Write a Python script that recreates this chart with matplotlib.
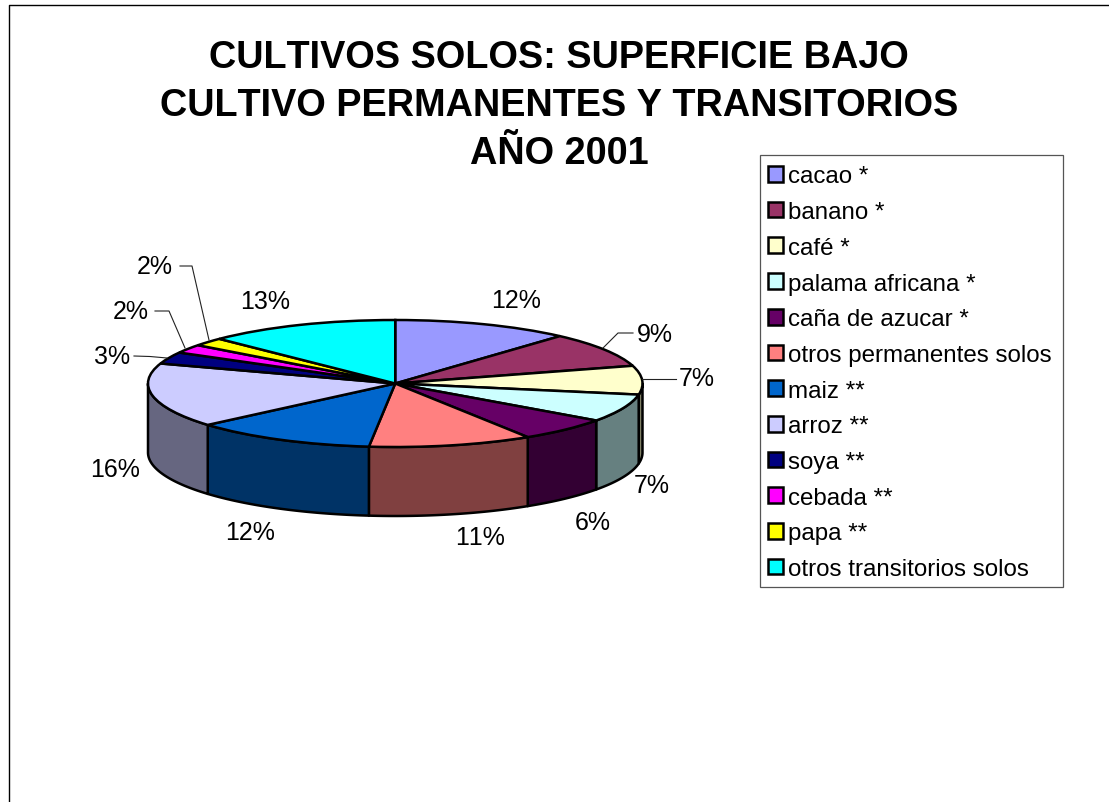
import numpy as np
import matplotlib
matplotlib.use("Agg")
import matplotlib.pyplot as plt
from matplotlib.colors import to_rgb
from matplotlib.patches import Rectangle

plt.rcParams['font.family'] = ['Liberation Sans', 'DejaVu Sans']
plt.rcParams['text.kerning_factor'] = 6

categories = ["cacao *", "banano *", "café *", "palama africana *", "caña de azucar *",
              "otros permanentes solos", "maiz **", "arroz **", "soya **", "cebada **",
              "papa **", "otros transitorios solos"]
shares = [11.6, 8.9, 7.3, 7.1, 6.1, 10.7, 12.0, 16.4, 3.0, 2.2, 2.1, 12.6]
colors = ["#9999FF", "#993366", "#FFFFCC", "#CCFFFF", "#660066", "#FF8080",
          "#0066CC", "#CCCCFF", "#000080", "#FF00FF", "#FFFF00", "#00FFFF"]
title_lines = ["CULTIVOS SOLOS: SUPERFICIE BAJO",
               "CULTIVO PERMANENTES Y TRANSITORIOS",
               "AÑO 2001"]
# label centres in pixels
label_xy = [(516, 301), (655, 335), (697, 379), (652, 486), (593, 523), (480, 538),
            (250, 533), (115, 470), (112, 357), (131, 312), (155, 267), (265, 302)]
# leader lines in pixels
leaders = [[(633, 334), (618, 334), (603, 349)],
           [(676, 380), (642, 380)],
           [(134, 357), (150, 357.5), (167, 359)],
           [(155, 312), (169, 312), (185, 349)],
           [(180, 267), (192, 267), (209, 341)]]

W, H = 1109, 803
LW = 1.8
fig = plt.figure(figsize=(W / 100, H / 100), dpi=100, facecolor="white")

# pie axes: the unit circle maps on to the squashed ellipse of the top face
L, R, T, B = 148, 642.5, 321, 448
ax = fig.add_axes([L / W, 1 - B / H, (R - L) / W, (B - T) / H])
wedges, _ = ax.pie(shares, colors=colors, startangle=90, counterclock=False, radius=1,
                   wedgeprops=dict(edgecolor="black", linewidth=LW, zorder=5, clip_on=False))
ax.set_aspect("auto")
ax.set_xlim(-1, 1)
ax.set_ylim(-1, 1)
ax.axis("off")

depth = 69 / ((B - T) / 2)
edges = np.concatenate([[0], np.cumsum(shares)]) / np.sum(shares) * 360
for a, b, c in zip(edges[:-1], edges[1:], colors):
    lo, hi = max(a, 90), min(b, 270)
    if hi <= lo:
        continue
    th = np.radians(np.linspace(lo, hi, 60))
    x, y = np.sin(th), np.cos(th)
    dark = tuple(0.5 * v for v in to_rgb(c))
    ax.fill(np.r_[x, x[::-1]], np.r_[y, y[::-1] - depth], facecolor=dark,
            edgecolor="black", linewidth=LW, zorder=2, clip_on=False, joinstyle="round")

# overlay in pixel coordinates
ov = fig.add_axes([0, 0, 1, 1], facecolor="none")
ov.set_xlim(0, W)
ov.set_ylim(H, 0)
ov.axis("off")
ov.plot([9, 9, W], [H, 5.5, 5.5], color="black", lw=1.0, clip_on=False)

for y, line in zip([68, 116, 164], title_lines):
    ov.text(559, y, line, ha="center", va="baseline", fontsize=27.3, fontweight="bold", color="black")

for (x, y), v in zip(label_xy, shares):
    ov.text(x, y, f"{v:.0f}%", ha="center", va="center", fontsize=18, color="black")
for pts in leaders:
    xs, ys = zip(*pts)
    ov.plot(xs, ys, color="#222222", lw=0.8)

ov.add_patch(Rectangle((760, 156), 303, 432, facecolor="white", edgecolor="#555555", linewidth=0.9))
leg = ov.legend(wedges, categories, loc="upper left", bbox_to_anchor=(767.7, 166.4),
                bbox_transform=ov.transData, fontsize=17.4, frameon=False,
                borderaxespad=0, borderpad=0,
                labelspacing=0.567, handlelength=0.62, handleheight=0.62, handletextpad=0.2)
for h in leg.get_patches():
    h.set_linewidth(1.8)

fig.savefig("out.png", dpi=100)
